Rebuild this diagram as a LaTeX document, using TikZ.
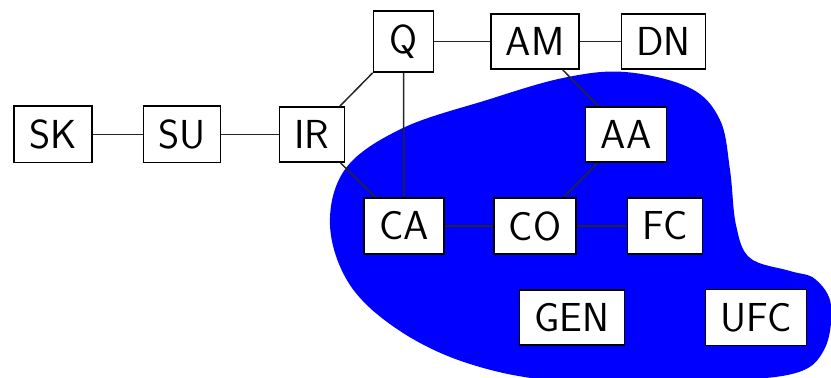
\documentclass[tikz,border=0pt]{standalone}
\begin{document}
\begin{tikzpicture}[x=0.5pt,y=-0.5pt,
  box/.style={draw=black,fill=white,line width=0.8pt,inner xsep=7.5pt,inner ysep=6.75pt,
    font=\fontsize{20.25}{24}\selectfont\sffamily,minimum height=27.5pt},
  link/.style={draw=black!85,line width=0.75pt}]
\useasboundingbox (0,0) rectangle (831,378);
\fill[blue] plot[smooth cycle,tension=0.6] coordinates {
 (330,225) (346,168) (403,128) (487,100) (563,78) (625,72) (690,88) (720,120)
 (730,170) (736,225) (750,258) (790,271) (815,279) (831,305) (824,350) (792,374)
 (700,381) (560,381) (470,364) (400,331) (350,285)};
\node[box] (SK) at (53,134.5) {SK};
\node[box] (SU) at (182,134.5) {SU};
\node[box] (IR) at (312,134.5) {IR};
\node[box,minimum height=30.5pt,minimum width=30pt] (Q) at (403.5,41.5) {Q};
\node[box] (AM) at (535,41.5) {AM};
\node[box] (DN) at (663.5,41.5) {DN};
\node[box] (AA) at (626,134.5) {AA};
\node[box] (CA) at (404,226) {CA};
\node[box] (CO) at (535,226) {CO};
\node[box] (FC) at (665,226) {FC};
\node[box] (GEN) at (572,317.5) {GEN};
\node[box] (UFC) at (756,317.5) {UFC};
\draw[link] (SK) -- (SU);
\draw[link] (SU) -- (IR);
\draw[link] (IR) -- (Q);
\draw[link] (IR) -- (CA);
\draw[link] (Q) -- (CA);
\draw[link] (Q) -- (AM);
\draw[link] (AM) -- (DN);
\draw[link] (AM) -- (AA);
\draw[link] (AA) -- (CO);
\draw[link] (CA) -- (CO);
\draw[link] (CO) -- (FC);
\end{tikzpicture}
\end{document}
